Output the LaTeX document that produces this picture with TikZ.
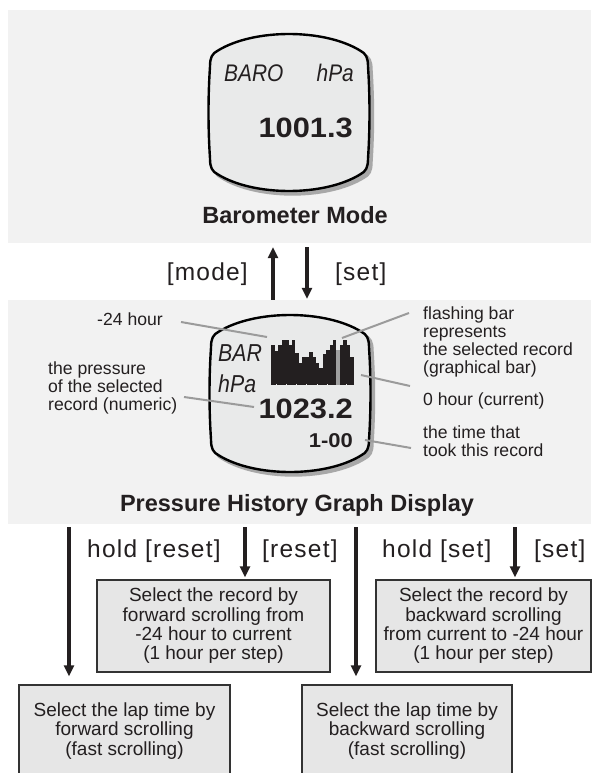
\documentclass[tikz,border=0pt]{standalone}
\usepackage{fontspec}
\setmainfont{Liberation Sans}
\newfontfamily\lcdfont[FakeStretch=0.87]{Liberation Sans}
\newfontfamily\digfont[FakeStretch=1.1]{Liberation Sans}
\newfontfamily\trackfont[LetterSpace=5]{Liberation Sans}
\usetikzlibrary{arrows.meta}
\definecolor{panelbg}{HTML}{F2F2F2}
\definecolor{lcdbg}{HTML}{E9EAEA}
\definecolor{boxbg}{HTML}{E6E6E6}
\definecolor{boxc}{HTML}{333333}
\definecolor{leadc}{HTML}{9B9B9B}
\definecolor{txt}{HTML}{231F20}
\definecolor{shc}{HTML}{A8A8A8}
\definecolor{flash}{HTML}{A0A0A0}
\tikzset{
  panel/.style={rectangle, fill=panelbg, draw=none, inner sep=0pt},
  lcdtxt/.style={font=\lcdfont\itshape\fontsize{24}{24}\selectfont},
  lcdtxtb/.style={font=\lcdfont\itshape\fontsize{24.5}{24.5}\selectfont},
  digit/.style={font=\digfont\bfseries\fontsize{28}{28}\selectfont},
  digitsmall/.style={font=\digfont\bfseries\fontsize{20}{20}\selectfont},
  paneltitle/.style={font=\bfseries\fontsize{23.5}{24}\selectfont},
  keylbl/.style={font=\trackfont\fontsize{24.5}{25}\selectfont},
  callt/.style={font=\fontsize{17.6}{18}\selectfont},
  leader/.style={draw=leadc, line width=2pt},
  arr/.style={draw=txt, line width=3.2pt, -{Triangle[length=11pt,width=10pt]}},
  opbox/.style={rectangle, draw=boxc, fill=boxbg, line width=1.3pt, minimum height=92pt,
    align=center, font=\fontsize{19}{19.3}\selectfont},
  lcdscreen/.pic={
    \filldraw[fill=shc, draw=shc, line width=2.4pt, shift={(3.5,3.5)}]
      (-71,-62) .. controls (-35,-84) and (35,-84) .. (71,-62)
      .. controls (77,-59) and (79,-55) .. (79,-46)
      .. controls (81,-16) and (81,16) .. (79,46)
      .. controls (79,55) and (77,59) .. (71,62)
      .. controls (35,84) and (-35,84) .. (-71,62)
      .. controls (-77,59) and (-79,55) .. (-79,46)
      .. controls (-81,16) and (-81,-16) .. (-79,-46)
      .. controls (-79,-55) and (-77,-59) .. (-71,-62) -- cycle;
    \filldraw[fill=lcdbg, draw=black, line width=2.4pt]
      (-71,-62) .. controls (-35,-84) and (35,-84) .. (71,-62)
      .. controls (77,-59) and (79,-55) .. (79,-46)
      .. controls (81,-16) and (81,16) .. (79,46)
      .. controls (79,55) and (77,59) .. (71,62)
      .. controls (35,84) and (-35,84) .. (-71,62)
      .. controls (-77,59) and (-79,55) .. (-79,46)
      .. controls (-81,16) and (-81,-16) .. (-79,-46)
      .. controls (-79,-55) and (-77,-59) .. (-71,-62) -- cycle;
  }
}
\begin{document}
\begin{tikzpicture}[x=1pt, y=-1pt, every node/.style={inner sep=0pt, text=txt}]
\path[use as bounding box, fill=white] (0,0) rectangle (592,773);

% panels
\node[panel, minimum width=583pt, minimum height=233pt] (panA) at (299.5,126.5) {};
\node[panel, minimum width=583pt, minimum height=224pt] (panB) at (299.5,412) {};

% barometer mode display
\pic (lcdA) at (289,112.5) {lcdscreen};
\node[lcdtxt, anchor=base west] (baro) at (224,82) {BARO};
\node[lcdtxt, anchor=base east] (hpaA) at (354,82) {hPa};
\node[digit, anchor=base east] (valA) at (353,138) {1001.3};
\node[paneltitle, anchor=base] (titleA) at (295,223) {Barometer Mode};

% mode / set arrows
\coordinate (upx) at (273,0);
\coordinate (dnx) at (307,0);
\draw[arr, shorten >=4pt] (panB.north -| upx) -- (panA.south -| upx);
\draw[arr, shorten <=4pt, shorten >=1pt] (panA.south -| dnx) -- (panB.north -| dnx);
\node[keylbl, anchor=base east] (kmode) at (248,280) {[mode]};
\node[keylbl, anchor=base west] (kset) at (335,280) {[set]};

% pressure history display
\pic (lcdB) at (290,393.5) {lcdscreen};
\node[lcdtxtb, anchor=base west] (bar) at (218,361) {BAR};
\node[lcdtxtb, anchor=base west] (hpaB) at (218,392) {hPa};
\node[digit, anchor=base east] (valB) at (353,418) {1023.2};
\node[digitsmall, anchor=base east] (timeB) at (353,447) {1-00};

% bar graph
\foreach \xa/\xb/\h in {271/274.7/40, 274.7/278/34, 278/282/40, 282/288.7/45, 288.7/292/40,
  292/295.3/45, 295.3/298.7/32, 298.7/302/22, 302/308.7/28, 308.7/312.7/33, 312.7/316/28,
  316/319.3/22, 319.3/322.7/17, 322.7/326/31, 326/330.3/35, 330.3/333/40, 333/336.1/45,
  340/343.3/40, 343.3/346.7/45, 346.7/350/40, 350/353.7/28} {
  \fill[txt] (\xa-0.1,385) rectangle (\xb+0.1,{385-\h});
}
\fill[flash] (336,385) rectangle (340,350);
\foreach \xn in {276,286,296,306,317,327,346} {
  \fill[lcdbg] (\xn,385.3) rectangle (\xn+1,383.6);
}

% callouts
\node[callt, anchor=base west] (c24) at (97,325) {-24 hour};
\node[callt, anchor=north west, align=left] (cpress) at (48,362) {the pressure\\of the selected\\record (numeric)};
\node[callt, anchor=north west, align=left] (cflash) at (423,307) {flashing bar\\represents\\the selected record\\(graphical bar)};
\node[callt, anchor=base west] (czero) at (423,405) {0 hour (current)};
\node[callt, anchor=north west, align=left] (ctime) at (423,426) {the time that\\took this record};

\coordinate (l24a) at (181,322);   \coordinate (l24b) at (267,337);
\coordinate (lpra) at (184,397);   \coordinate (lprb) at (254,407);
\coordinate (lfla) at (409,313);   \coordinate (lflb) at (342,338);
\coordinate (lzea) at (410,386);   \coordinate (lzeb) at (361,375);
\coordinate (ltia) at (411,448);   \coordinate (ltib) at (365,440);
\draw[leader] (l24a) -- (l24b);
\draw[leader] (lpra) -- (lprb);
\draw[leader] (lfla) -- (lflb);
\draw[leader] (lzea) -- (lzeb);
\draw[leader] (ltia) -- (ltib);

\node[paneltitle, anchor=base] (titleB) at (297,511) {Pressure History Graph Display};

% operation boxes
\node[opbox, minimum width=233pt] (b1) at (213.5,626) {Select the record by\\forward scrolling from\\-24 hour to current\\(1 hour per step)};
\node[opbox, minimum width=215pt] (b2) at (483.5,626) {Select the record by\\backward scrolling\\from current to -24 hour\\(1 hour per step)};
\node[opbox, minimum width=211pt] (b3) at (124.5,731) {Select the lap time by\\forward scrolling\\(fast scrolling)};
\node[opbox, minimum width=210pt] (b4) at (407,731) {Select the lap time by\\backward scrolling\\(fast scrolling)};

\coordinate (a1) at (69,0);
\coordinate (a2) at (245,0);
\coordinate (a3) at (356,0);
\coordinate (a4) at (515,0);
\draw[arr, shorten <=3pt, shorten >=8pt] (panB.south -| a1) -- (b3.north -| a1);
\draw[arr, shorten <=3pt, shorten >=2pt] (panB.south -| a2) -- (b1.north -| a2);
\draw[arr, shorten <=3pt, shorten >=8pt] (panB.south -| a3) -- (b4.north -| a3);
\draw[arr, shorten <=3pt, shorten >=2pt] (panB.south -| a4) -- (b2.north -| a4);

\node[keylbl, anchor=base west] (khr) at (87,557) {hold [reset]};
\node[keylbl, anchor=base west] (kr) at (262,557) {[reset]};
\node[keylbl, anchor=base west] (khs) at (382,557) {hold [set]};
\node[keylbl, anchor=base west] (ks) at (534,557) {[set]};
\end{tikzpicture}
\end{document}
